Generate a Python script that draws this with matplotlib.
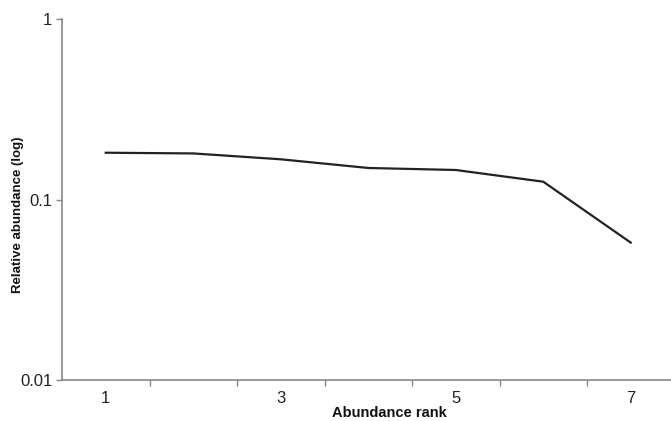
import matplotlib
matplotlib.use("Agg")
import matplotlib.pyplot as plt
from matplotlib.ticker import FixedLocator, NullLocator, NullFormatter

plt.rcParams['font.family'] = ['Liberation Sans', 'DejaVu Sans']

ranks = [1, 2, 3, 4, 5, 6, 7]
abundance = [0.1816, 0.180, 0.167, 0.1495, 0.1457, 0.1255, 0.0577]
xtick_labels = ['1', '3', '5', '7']
ytick_vals = [0.01, 0.1, 1]
ytick_labels = ['0.01', '0.1', '1']

fig = plt.figure(figsize=(6.71, 4.21), dpi=100)
ax = fig.add_axes([62/671, 1-380/421, 1-62/671, (380-19)/421])

ax.plot(ranks, abundance, color='#222222', linewidth=1.6)
ax.set_yscale('log')
ax.set_ylim(0.01, 1)
ax.set_xlim(0.5, 7.46)

ax.yaxis.set_major_locator(FixedLocator(ytick_vals))
ax.set_yticklabels(ytick_labels)
ax.yaxis.set_minor_locator(NullLocator())
ax.yaxis.set_minor_formatter(NullFormatter())

ax.set_xticks([1, 3, 5, 7])
ax.set_xticklabels(xtick_labels)
ax.tick_params(axis='x', which='major', length=0, pad=8, labelsize=12, colors='#222222')
ax.set_xticks([1.5, 2.5, 3.5, 4.5, 5.5, 6.5], minor=True)
ax.tick_params(axis='x', which='minor', length=4, color='#888888', width=1, direction='out')
ax.tick_params(axis='y', which='major', length=4, color='#888888', width=1, labelsize=12, pad=3, labelcolor='#222222')

for s in ['top', 'right']:
    ax.spines[s].set_visible(False)
for s in ['left', 'bottom']:
    ax.spines[s].set_color('#888888')
    ax.spines[s].set_linewidth(1.2)

fig.text(389/671, 1-413/421, 'Abundance rank', ha='center', va='center',
         fontsize=10.5, fontweight='bold', color='#111111')
fig.text(18/671, 1-215/421, 'Relative abundance (log)', ha='center', va='center',
         rotation=90, fontsize=9.5, fontweight='bold', color='#111111')

fig.savefig('out.png', dpi=100)
